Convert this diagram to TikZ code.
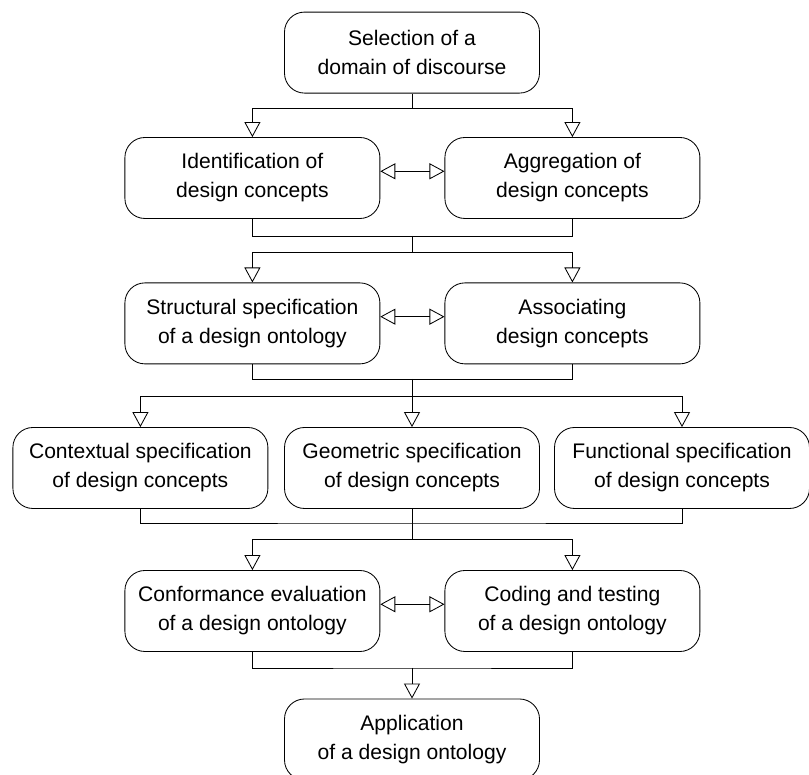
\documentclass[tikz,border=0pt]{standalone}
\usepackage{fontspec}
\setmainfont{Liberation Sans}
\usetikzlibrary{arrows.meta}

\tikzset{
  stage/.style={draw, rounded corners=0.5cm, align=center, inner sep=0pt,
    minimum width=6.375cm, minimum height=2.025cm,
    font=\fontsize{15}{20.6}\selectfont},
  flow/.style={-{Triangle[open, length=0.375cm, width=0.4cm]}},
  pair/.style={{Triangle[open, length=0.375cm, width=0.4cm]}-{Triangle[open, length=0.375cm, width=0.4cm]}}
}

\begin{document}
\begin{tikzpicture}[line width=0.6pt]
\useasboundingbox (0, 0) rectangle (20.225, 19.375);
% stages
\node[stage] (sel) at (10.3, 18.06) {Selection of a\\domain of discourse};
\node[stage] (ident) at (6.31, 14.925) {Identification of\\design concepts};
\node[stage] (aggr) at (14.31, 14.925) {Aggregation of\\design concepts};
\node[stage] (struct) at (6.31, 11.29) {Structural specification\\of a design ontology};
\node[stage] (assoc) at (14.31, 11.29) {Associating\\design concepts};
\node[stage] (context) at (3.51, 7.675) {Contextual specification\\of design concepts};
\node[stage] (geom) at (10.3, 7.675) {Geometric specification\\of design concepts};
\node[stage] (func) at (17.05, 7.675) {Functional specification\\of design concepts};
\node[stage] (conf) at (6.31, 4.1) {Conformance evaluation\\of a design ontology};
\node[stage] (coding) at (14.31, 4.1) {Coding and testing\\of a design ontology};
\node[stage] (appl) at (10.3, 0.8875) {Application\\of a design ontology};
% junctions
\coordinate (split1) at (10.3, 16.675);
\coordinate (merge1) at (10.3, 13.475);
\coordinate (split2) at (10.3, 13.075);
\coordinate (merge2) at (10.3, 9.9);
\coordinate (split3) at (10.3, 9.475);
\coordinate (merge3) at (10.3, 6.3);
\coordinate (split4) at (10.3, 5.9);
\coordinate (merge4) at (10.3, 2.675);
% connectors
\draw (sel) -- (split1);
\draw[flow] (split1) -| (ident);
\draw[flow] (split1) -| (aggr);
\draw[pair] (ident.3) -- (aggr.177);
\draw (ident) |- (merge1) -| (aggr);
\draw (merge1) -- (split2);
\draw[flow] (split2) -| (struct);
\draw[flow] (split2) -| (assoc);
\draw[pair] (struct.3) -- (assoc.177);
\draw (struct) |- (merge2) -| (assoc);
\draw (merge2) -- (split3);
\draw[flow] (split3) -| (context);
\draw[flow] (split3) -- (geom);
\draw[flow] (split3) -| (func);
\draw (context) |- (merge3) -| (func);
\draw (geom) -- (merge3);
\draw (merge3) -- (split4);
\draw[flow] (split4) -| (conf);
\draw[flow] (split4) -| (coding);
\draw[pair] (conf.3) -- (coding.177);
\draw (conf) |- (merge4) -| (coding);
\draw[flow] (merge4) -- (appl);
\end{tikzpicture}
\end{document}
